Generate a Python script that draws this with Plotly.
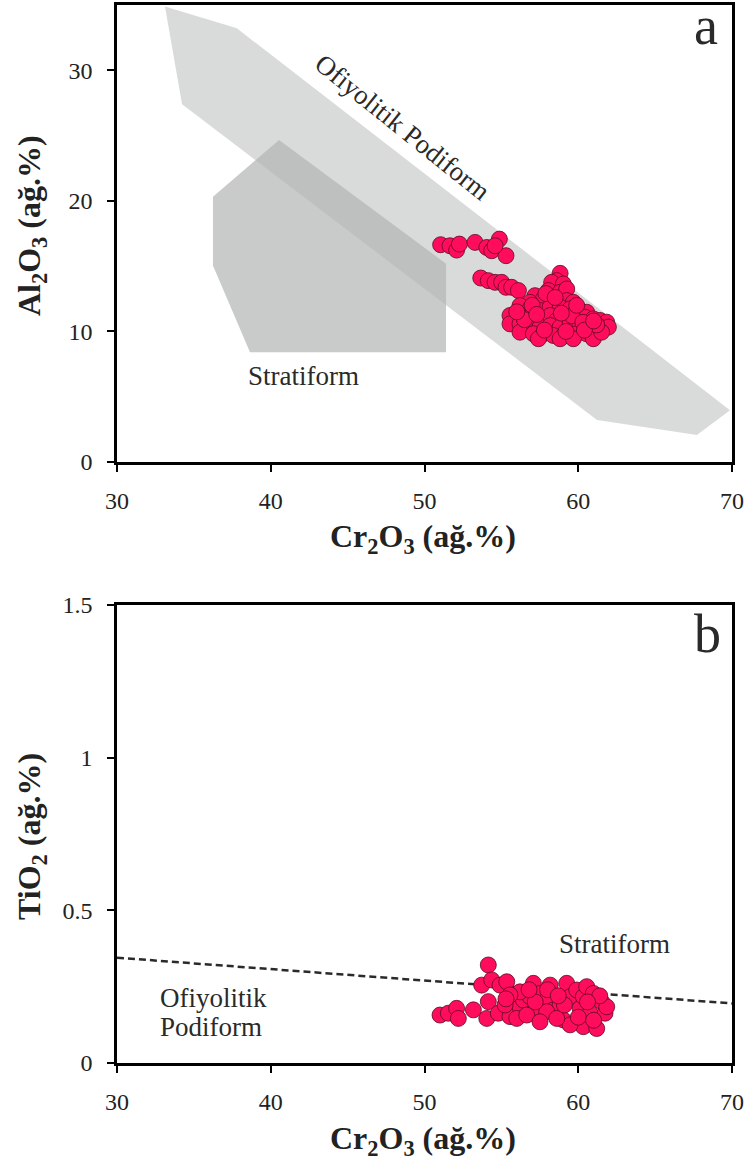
import plotly.graph_objects as go

# ---------------- data ----------------
# Panel a: Cr2O3 vs Al2O3
cr_a = [51.05, 51.66, 52.09, 52.27, 53.29, 54.05, 54.37, 54.87, 55.30, 54.59,
        53.66, 54.15, 54.59, 55.02, 55.30, 55.67, 56.11,
        58.82, 58.60, 58.27, 59.03, 58.06, 58.82, 59.25,
        57.19, 57.73, 56.86, 58.38, 59.25, 59.68,
        56.21, 56.86, 57.51, 58.17, 58.82, 59.47, 60.12, 60.55,
        55.56, 56.21, 56.86, 57.51, 58.17, 58.60, 59.25, 59.90, 60.44, 60.98, 61.42, 61.85,
        55.56, 56.21, 56.86, 57.51, 58.17, 58.82, 59.47, 60.12, 60.77, 61.42, 61.96,
        56.21, 57.08, 57.73, 58.38, 59.03, 59.90, 60.55, 60.98, 61.52,
        57.41, 58.82, 59.68,
        57.00, 57.90, 58.50, 59.60, 60.30, 61.20, 56.50, 57.80, 59.20, 60.40,
        61.00, 58.90, 57.30, 56.00, 59.90]
al_a = [16.64, 16.56, 16.23, 16.69, 16.82, 16.43, 16.18, 17.07, 15.80, 16.56,
        14.09, 13.89, 13.76, 13.76, 13.38, 13.38, 13.13,
        14.45, 13.89, 13.76, 13.63, 13.13, 13.00, 13.25,
        12.74, 12.49, 12.23, 12.36, 12.36, 12.23,
        11.98, 11.73, 11.60, 11.85, 11.85, 11.73, 11.60, 11.47,
        11.22, 11.22, 11.09, 10.96, 11.22, 10.84, 11.09, 10.96, 11.09, 10.96, 10.84, 10.71,
        10.58, 10.58, 10.45, 10.33, 10.45, 10.33, 10.58, 10.45, 10.33, 10.33, 10.33,
        9.94, 9.82, 9.82, 9.69, 9.69, 9.82, 9.82, 9.44, 9.94,
        9.44, 9.44, 9.44,
        12.00, 12.90, 12.60, 11.20, 10.70, 10.50, 10.90, 10.10, 10.00, 10.10,
        10.80, 11.40, 11.30, 11.50, 12.00]

# Panel b: Cr2O3 vs TiO2
cr_b = [51.01, 51.55, 52.09, 52.20, 53.18, 54.15, 53.72, 54.37, 54.91, 55.35,
        54.15, 54.05, 54.80, 55.56, 55.89, 56.21, 56.43, 56.00, 57.08, 56.86,
        57.30, 57.51, 57.95, 58.17, 58.38, 58.82, 59.25, 59.47, 59.90, 60.12,
        60.33, 60.55, 60.77, 60.33, 61.20, 61.52, 61.74, 61.85, 59.03, 59.47,
        56.65, 57.95, 58.60, 57.51, 60.98, 56.21, 55.56, 55.24,
        57.20, 58.00, 59.10, 60.00, 61.00, 56.80, 55.30, 58.70, 61.40, 60.60]
ti_b = [0.157, 0.163, 0.179, 0.146, 0.174, 0.321, 0.255, 0.272, 0.255, 0.266,
        0.201, 0.146, 0.163, 0.152, 0.217, 0.184, 0.206, 0.146, 0.261, 0.217,
        0.179, 0.228, 0.206, 0.255, 0.174, 0.190, 0.261, 0.217, 0.239, 0.179,
        0.217, 0.250, 0.163, 0.119, 0.113, 0.201, 0.163, 0.184, 0.141, 0.125,
        0.157, 0.168, 0.146, 0.135, 0.228, 0.233, 0.223, 0.190,
        0.200, 0.240, 0.190, 0.150, 0.140, 0.240, 0.210, 0.220, 0.220, 0.200]

# Field polygons (panel a)
podiform_cr = [33.12, 37.80, 69.87, 67.72, 61.22, 34.23, 33.12]
podiform_al = [34.89, 33.21, 3.97, 2.06, 3.21, 27.40, 34.89]
stratiform_cr = [40.54, 51.40, 51.40, 38.65, 36.24, 36.24, 40.54]
stratiform_al = [24.66, 15.19, 8.40, 8.40, 15.04, 20.31, 24.66]

# Boundary line (panel b)
line_cr = [30, 70]
line_ti = [0.345, 0.195]

x_ticks = [30, 40, 50, 60, 70]
ya_ticks = [0, 10, 20, 30]
yb_ticks = [0, 0.5, 1, 1.5]
yb_ticklabels = ["0", "0.5", "1", "1.5"]

# ---------------- figure ----------------
SERIF = "Liberation Serif"
W, H = 746, 1165
MARK = dict(size=16, color="#FF0D5C", line=dict(color="#5E0A26", width=0.8))

fig = go.Figure()
fig.add_trace(go.Scatter(x=podiform_cr, y=podiform_al, fill="toself", mode="lines",
                         line=dict(width=0), fillcolor="#D9DBDA", xaxis="x", yaxis="y",
                         hoverinfo="skip"))
fig.add_trace(go.Scatter(x=stratiform_cr, y=stratiform_al, fill="toself", mode="lines",
                         line=dict(width=0), fillcolor="rgba(178,180,179,0.70)", xaxis="x", yaxis="y",
                         hoverinfo="skip"))
fig.add_trace(go.Scatter(x=cr_a, y=al_a, mode="markers", marker=MARK, xaxis="x", yaxis="y"))
fig.add_trace(go.Scatter(x=line_cr, y=line_ti, mode="lines",
                         line=dict(color="#2A2A2A", width=2.5, dash="7px,4px"),
                         xaxis="x2", yaxis="y2", hoverinfo="skip"))
fig.add_trace(go.Scatter(x=cr_b, y=ti_b, mode="markers", marker=MARK, xaxis="x2", yaxis="y2"))

dom_x = [117 / W, 732 / W]
dom_ya = [1 - 462 / H, 1 - 5 / H]
dom_yb = [1 - 1063 / H, 1 - 605 / H]

axis_common = dict(showline=True, linecolor="black", linewidth=2.5, mirror=True,
                   ticks="outside", ticklen=7, tickwidth=2, tickcolor="black",
                   showgrid=False, zeroline=False, automargin=False,
                   tickfont=dict(family=SERIF, size=24, color="#222222"))

fig.update_layout(
    width=W, height=H, margin=dict(l=0, r=0, t=0, b=0, pad=0, autoexpand=False),
    paper_bgcolor="white", plot_bgcolor="white", showlegend=False,
    xaxis=dict(domain=dom_x, range=[30, 70], tickvals=x_ticks, anchor="y",
               ticklabelstandoff=8, **axis_common),
    yaxis=dict(domain=dom_ya, range=[0, 35], tickvals=ya_ticks, anchor="x",
               ticklabelstandoff=10, **axis_common),
    xaxis2=dict(domain=dom_x, range=[30, 70], tickvals=x_ticks, anchor="y2",
                ticklabelstandoff=8, **axis_common),
    yaxis2=dict(domain=dom_yb, range=[0, 1.5], tickvals=yb_ticks, ticktext=yb_ticklabels,
                anchor="x2", ticklabelstandoff=10, **axis_common),
)

def px(x):
    return x / W

def py(y):
    return 1 - y / H

lab = dict(family=SERIF, size=27, color="#2A2A2A")
ttl = dict(family=SERIF, size=32, color="#222222")
anns = [
    dict(text="a", x=px(706), y=py(26), xref="paper", yref="paper",
         font=dict(family=SERIF, size=54, color="#2A2A2A")),
    dict(text="b", x=px(707), y=py(634), xref="paper", yref="paper",
         font=dict(family=SERIF, size=54, color="#2A2A2A")),
    dict(text="Ofiyolitik Podiform", x=48.54, y=25.65, xref="x", yref="y",
         textangle=38.7, font=lab),
    dict(text="Stratiform", x=42.10, y=6.56, xref="x", yref="y", font=lab),
    dict(text="Stratiform", x=62.33, y=0.39, xref="x2", yref="y2", font=lab),
    dict(text="Ofiyolitik", x=32.67, y=0.213, xref="x2", yref="y2", xanchor="left", font=lab),
    dict(text="Podiform", x=32.67, y=0.118, xref="x2", yref="y2", xanchor="left", font=lab),
    dict(text="<b>Cr<sub>2</sub>O<sub>3</sub> (ağ.%)</b>", x=px(423), y=py(538),
         xref="paper", yref="paper", font=ttl),
    dict(text="<b>Cr<sub>2</sub>O<sub>3</sub> (ağ.%)</b>", x=px(423), y=py(1140),
         xref="paper", yref="paper", font=ttl),
    dict(text="<b>Al<sub>2</sub>O<sub>3</sub> (ağ.%)</b>", x=px(32), y=py(226),
         xref="paper", yref="paper", textangle=-90, font=ttl),
    dict(text="<b>TiO<sub>2</sub> (ağ.%)</b>", x=px(32), y=py(837),
         xref="paper", yref="paper", textangle=-90, font=ttl),
]
for a in anns:
    a.setdefault("showarrow", False)
    a.setdefault("xanchor", "center")
    a.setdefault("yanchor", "middle")
fig.update_layout(annotations=anns)

fig.write_html("out.html")
